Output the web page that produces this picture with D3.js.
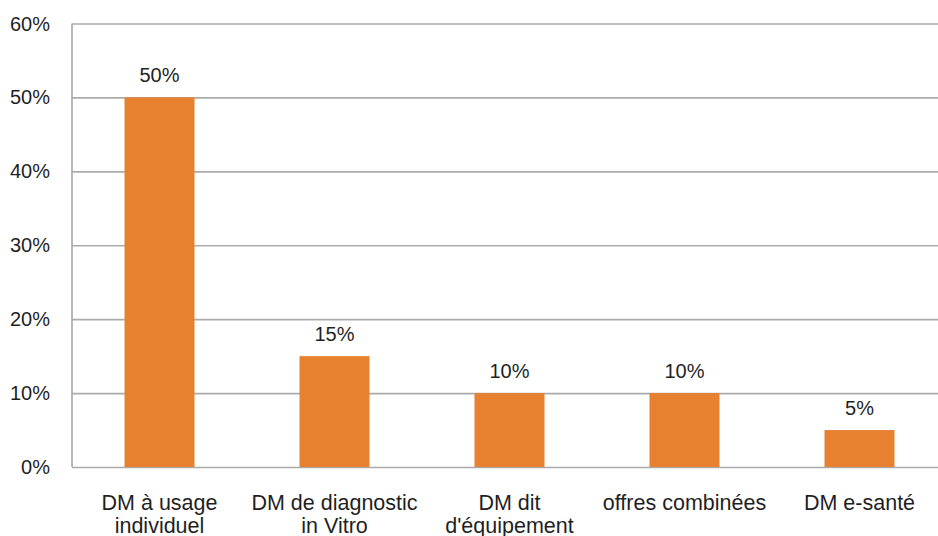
<!DOCTYPE html>
<html>
<head>
<meta charset="utf-8">
<title>DM bar chart</title>
<script src="https://cdnjs.cloudflare.com/ajax/libs/d3/7.8.5/d3.min.js"></script>
<style>
body { margin: 0; background: #fff; }
text { font-family: "Liberation Sans", Arial, sans-serif; fill: #1f1f1f; }
.grid line { stroke: #ababab; stroke-width: 1.7px; }
.grid .domain { display: none; }
</style>
</head>
<body>
<script>

var categories = [["DM à usage", "individuel"], ["DM de diagnostic", "in Vitro"], ["DM dit", "d'équipement"], ["offres combinées"], ["DM e-santé"]];
var values = [50, 15, 10, 10, 5];
var yTicks = [0, 10, 20, 30, 40, 50, 60];

var width = 938,
    height = 536,
    plotLeft = 72,
    plotRight = 947,
    plotTop = 23.5,
    plotBottom = 467;

var svg = d3.select("body").append("svg")
    .attr("width", width)
    .attr("height", height);

var x = d3.scaleBand()
    .domain(d3.range(values.length))
    .range([plotLeft, plotRight])
    .paddingInner(0.6)
    .paddingOuter(0.3);

var y = d3.scaleLinear()
    .domain([0, 60])
    .range([plotBottom, plotTop]);

// gridlines
svg.append("g")
    .attr("class", "grid")
    .attr("transform", "translate(" + plotLeft + ",0)")
    .call(d3.axisRight(y).tickValues(yTicks).tickSize(plotRight - plotLeft).tickFormat(""));

// left axis line
svg.append("line")
    .attr("x1", plotLeft).attr("x2", plotLeft)
    .attr("y1", y(60)).attr("y2", y(0))
    .style("stroke", "#ababab").style("stroke-width", "1.7px");

// y labels
svg.append("g").selectAll("text")
    .data(yTicks)
  .enter().append("text")
    .attr("x", 50)
    .attr("y", function(d) { return y(d); })
    .attr("dy", "0.35em")
    .attr("text-anchor", "end")
    .style("font-size", "20px")
    .text(function(d) { return d + "%"; });

// bars
svg.append("g").selectAll("rect")
    .data(values)
  .enter().append("rect")
    .attr("x", function(d, i) { return x(i); })
    .attr("y", function(d) { return y(d); })
    .attr("width", x.bandwidth())
    .attr("height", function(d) { return y(0) - y(d); })
    .style("fill", "#e8812f");

// value labels
svg.append("g").selectAll("text")
    .data(values)
  .enter().append("text")
    .attr("x", function(d, i) { return x(i) + x.bandwidth() / 2; })
    .attr("y", function(d) { return y(d) - 22; })
    .attr("dy", "0.35em")
    .attr("text-anchor", "middle")
    .style("font-size", "20px")
    .text(function(d) { return d + "%"; });

// category labels
var cat = svg.append("g").selectAll("text")
    .data(categories)
  .enter().append("text")
    .attr("text-anchor", "middle")
    .style("font-size", "21.5px")
    .attr("transform", function(d, i) { return "translate(" + (x(i) + x.bandwidth() / 2) + ",502)"; });

cat.selectAll("tspan")
    .data(function(d) { return d; })
  .enter().append("tspan")
    .attr("x", 0)
    .attr("y", function(d, j) { return j * 23.5; })
    .attr("dy", "0.35em")
    .text(function(d) { return d; });

</script>
</body>
</html>
